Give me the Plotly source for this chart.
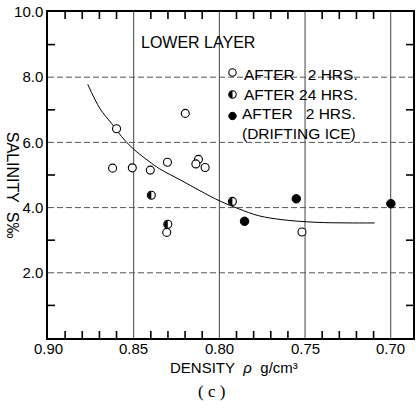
import plotly.graph_objects as go

# ---- data ----
open_density = [0.8623, 0.8508, 0.8403, 0.8600, 0.8303, 0.8199, 0.8122, 0.8137, 0.8083, 0.8307, 0.7518]
open_salinity = [5.21, 5.22, 5.15, 6.42, 5.39, 6.89, 5.48, 5.34, 5.23, 3.24, 3.25]
half_density = [0.8397, 0.8301, 0.7924]
half_salinity = [4.38, 3.49, 4.19]
ice_density = [0.7853, 0.7551, 0.6999]
ice_salinity = [3.58, 4.27, 4.12]
curve_density = [0.8768, 0.8697, 0.8629, 0.8571, 0.8504, 0.8411, 0.8349, 0.8214, 0.8118,
                 0.7992, 0.7886, 0.7770, 0.7635, 0.7441, 0.7249, 0.7094]
curve_salinity = [7.78, 7.04, 6.58, 6.18, 5.81, 5.42, 5.19, 4.81, 4.53,
                  4.19, 3.96, 3.75, 3.63, 3.55, 3.53, 3.53]
x_ticks = [0.90, 0.85, 0.80, 0.75, 0.70]
x_ticktext = ["0.90", "0.85", "0.80", "0.75", "0.70"]
x_minor = [0.89, 0.88, 0.87, 0.86, 0.84, 0.83, 0.82, 0.81,
           0.79, 0.78, 0.77, 0.76, 0.74, 0.73, 0.72, 0.71]
x_grid = [0.85, 0.80, 0.75, 0.70]
y_ticks = [2, 4, 6, 8, 10]
y_ticktext = ["2.0", "4.0", "6.0", "8.0", "10.0"]
y_minor = [1, 3, 5, 7, 9]
y_grid = [2, 4, 6, 8]
legend_labels = ["AFTER\u00a0\u00a0\u00a02 HRS.", "AFTER 24 HRS.",
                 "AFTER\u00a0\u00a0\u00a02 HRS.<br>(DRIFTING ICE)"]

W, H = 416, 410
ML, MR, MT, MB = 48, 1, 12, 72
PW, PH = W - ML - MR, H - MT - MB
X0, X1 = 0.90, 0.687
Y0, Y1 = 0.0, 10.0

def px(xp):
    return (xp - ML) / PW

def py(yp):
    return (H - MB - yp) / PH

FONT = "Liberation Sans"
R = 3.7
K = 0.5523
TL = 7  # tick length in px
tlx = TL * (X0 - X1) / PW   # tick length in density units
tly = TL * (Y1 - Y0) / PH   # tick length in salinity units

fig = go.Figure()
tx, ty = [], []
for v in x_minor:
    tx += [v, v, None, v, v, None]
    ty += [Y0, Y0 + tly, None, Y1, Y1 - tly, None]
for v in y_minor:
    tx += [X0, X0 - tlx, None, X1, X1 + tlx, None]
    ty += [v, v, None, v, v, None]
fig.add_trace(go.Scatter(x=tx, y=ty, mode="lines", line=dict(color="#000000", width=1.6),
                         connectgaps=False, showlegend=False, hoverinfo="skip"))

fig.add_trace(go.Scatter(x=curve_density, y=curve_salinity, mode="lines",
                         line=dict(color="black", width=1, shape="spline"),
                         showlegend=False, hoverinfo="skip"))
fig.add_trace(go.Scatter(x=open_density, y=open_salinity, mode="markers",
                         marker=dict(symbol="circle", size=8, color="white",
                                     line=dict(color="black", width=1.1)),
                         showlegend=False))
fig.add_trace(go.Scatter(x=half_density, y=half_salinity, mode="markers",
                         marker=dict(symbol="circle", size=8, color="white",
                                     line=dict(color="black", width=1.1)),
                         showlegend=False))
fig.add_trace(go.Scatter(x=ice_density, y=ice_salinity, mode="markers",
                         marker=dict(symbol="circle", size=8.5, color="black",
                                     line=dict(color="black", width=1)),
                         showlegend=False))

shapes = []
for g in x_grid:
    shapes.append(dict(type="line", xref="x", yref="paper", x0=g, x1=g, y0=0, y1=1,
                       layer="below", line=dict(color="#444", width=1)))
for g in y_grid:
    shapes.append(dict(type="line", xref="paper", yref="y", x0=0, x1=1, y0=g, y1=g,
                       layer="below", line=dict(color="#555", width=1, dash="6px,3px")))

half_path = (f"M0,{R} C{-K*R},{R} {-R},{K*R} {-R},0 "
             f"C{-R},{-K*R} {-K*R},{-R} 0,{-R} Z")
for d, s in zip(half_density, half_salinity):
    shapes.append(dict(type="path", xref="x", yref="y", xsizemode="pixel", ysizemode="pixel",
                       xanchor=d, yanchor=s, path=half_path, fillcolor="black",
                       line=dict(width=0)))

leg_sym_x = 233.5
leg_rows_y = [72.5, 94.5, 116.0]
circle = (f"M{-R},0 C{-R},{K*R} {-K*R},{R} 0,{R} C{K*R},{R} {R},{K*R} {R},0 "
          f"C{R},{-K*R} {K*R},{-R} 0,{-R} C{-K*R},{-R} {-R},{-K*R} {-R},0 Z")
for i, yy in enumerate(leg_rows_y):
    common = dict(type="path", xref="paper", yref="paper", xsizemode="pixel", ysizemode="pixel",
                  xanchor=px(leg_sym_x), yanchor=py(yy))
    if i == 2:
        shapes.append(dict(common, path=circle, fillcolor="black", line=dict(color="black", width=1)))
    else:
        shapes.append(dict(common, path=circle, fillcolor="white", line=dict(color="black", width=1.1)))
        if i == 1:
            shapes.append(dict(common, path=half_path, fillcolor="black", line=dict(width=0)))

annotations = []
for v, t in zip(x_ticks, x_ticktext):
    annotations.append(dict(text=t, x=v, y=py(348.5), xref="x", yref="paper",
                            xanchor="center", yanchor="middle", showarrow=False,
                            font=dict(family=FONT, size=15, color="black")))
annotations.append(dict(text="LOWER LAYER", x=px(140), y=py(42.5), xref="paper", yref="paper",
                        xanchor="left", yanchor="middle", showarrow=False,
                        font=dict(family=FONT, size=16, color="black")))
leg_text_pos = [(243, 74.5), (243, 95), (241, 123.5)]
for lab, (xx, yy) in zip(legend_labels, leg_text_pos):
    annotations.append(dict(text=lab, x=px(xx), y=py(yy), xref="paper", yref="paper",
                            xanchor="left", yanchor="middle", align="left", showarrow=False,
                            font=dict(family=FONT, size=15.5, color="black")))
annotations.append(dict(text="DENSITY\u00a0\u00a0<i>\u03c1</i>\u00a0\u00a0g/cm\u00b3", x=px(235), y=py(367),
                        xref="paper", yref="paper", xanchor="center", yanchor="middle",
                        showarrow=False, font=dict(family=FONT, size=15, color="black")))
annotations.append(dict(text="( c )", x=px(212), y=py(391), xref="paper", yref="paper",
                        xanchor="center", yanchor="middle", showarrow=False,
                        font=dict(family="Liberation Serif", size=17, color="black")))
annotations.append(dict(text="SALINITY\u00a0\u00a0S\u2030", x=px(13), y=py(185), xref="paper", yref="paper",
                        xanchor="center", yanchor="middle", textangle=90, showarrow=False,
                        font=dict(family=FONT, size=16, color="black")))

fig.update_layout(
    width=W, height=H, margin=dict(l=ML, r=MR, t=MT, b=MB),
    paper_bgcolor="white", plot_bgcolor="white",
    showlegend=False, shapes=shapes, annotations=annotations,
    font=dict(family=FONT, color="black"),
)
fig.update_xaxes(range=[X0, X1], showticklabels=False, showgrid=False, ticks="",
                 showline=True, linecolor="black", linewidth=1.5, mirror=True,
                 zeroline=False)
fig.update_yaxes(range=[Y0, Y1], tickmode="array", tickvals=y_ticks, ticktext=y_ticktext,
                 showgrid=False, ticks="",
                 showline=True, linecolor="black", linewidth=1.5, mirror=True,
                 zeroline=False, tickfont=dict(family=FONT, size=15, color="black"))

fig.write_html("out.html")
